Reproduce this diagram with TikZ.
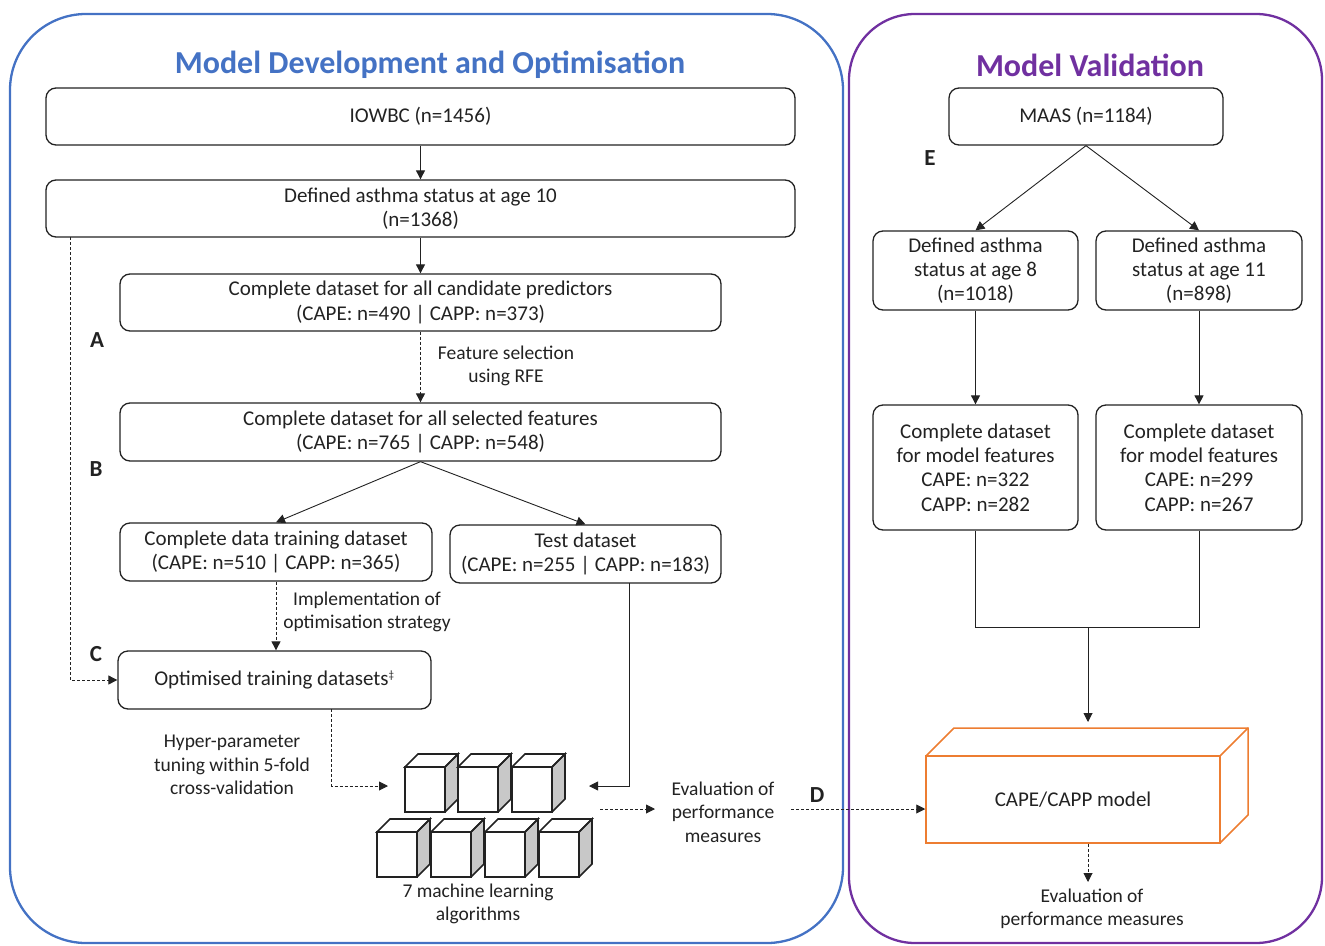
\documentclass[tikz,border=0pt]{standalone}
\usepackage{fontspec}
\setmainfont{Carlito}
\usetikzlibrary{arrows.meta}
\definecolor{devblue}{HTML}{4472C4}
\definecolor{valpurple}{HTML}{7030A0}
\definecolor{modelorange}{HTML}{ED7D31}
\definecolor{cubegrey}{HTML}{C8C8C8}
\definecolor{ink}{HTML}{222222}

\begin{document}
\begin{tikzpicture}[x=1pt,y=-1pt,
  box/.style={draw=ink, line width=1.3pt, rounded corners=10pt, align=center,
    font=\fontsize{21}{24.3}\selectfont, text=ink, inner sep=0pt},
  lbl/.style={align=center, font=\fontsize{19.5}{23.5}\selectfont, text=ink, inner sep=0pt},
  tag/.style={font=\fontsize{23}{26}\selectfont\bfseries, text=ink},
  heading/.style={font=\fontsize{32}{36}\selectfont\bfseries},
  arr/.style={-{Triangle[width=9pt,length=9pt]}, line width=0.9pt, draw=ink},
  dsh/.style={dash pattern=on 3pt off 2pt},
  cube/.style={draw=ink, line width=1.6pt, line join=miter},
]
\useasboundingbox (0,0) rectangle (1325,945);

% panels
\draw[devblue, line width=2.3pt, rounded corners=76pt] (10,14) rectangle (843,943);
\draw[valpurple, line width=2.3pt, rounded corners=66pt] (849,14) rectangle (1322,943);
\node[heading, text=devblue] (devtitle) at (430,65) {Model Development and Optimisation};
\node[heading, text=valpurple] (valtitle) at (1090,65) {Model Validation};

% development flow
\node[box, minimum width=749pt, minimum height=57pt] (iowbc) at (420.5,116.5) {IOWBC (n=1456)};
\node[box, minimum width=749pt, minimum height=57pt] (status) at (420.5,208.5) {Defined asthma status at age 10\\(n=1368)};
\node[box, minimum width=601pt, minimum height=57pt] (cand) at (420.5,302.5) {Complete dataset for all candidate predictors\\(CAPE: n=490 | CAPP: n=373)};
\node[box, minimum width=601pt, minimum height=58pt] (sel) at (420.5,432) {Complete dataset for all selected features\\(CAPE: n=765 | CAPP: n=548)};
\node[box, minimum width=312pt, minimum height=58pt] (train) at (276,552) {Complete data training dataset\\(CAPE: n=510 | CAPP: n=365)};
\node[box, minimum width=271pt, minimum height=58pt] (test) at (585.5,554) {Test dataset\\(CAPE: n=255 | CAPP: n=183)};
\node[box, minimum width=313pt, minimum height=58pt] (opt) at (274.5,680) {Optimised training datasets\textsuperscript{\fontsize{11}{11}\selectfont ‡}};

\node[tag] (la) at (97,340) {A};
\node[tag] (lb) at (96,469) {B};
\node[tag] (lc) at (96,654) {C};
\node[tag] (ld) at (817,795) {D};
\node[tag] (le) at (930,158) {E};

\node[lbl] (fsel) at (506,366) {Feature selection\\using RFE};
\node[lbl] (impl) at (367,612) {Implementation of\\optimisation strategy};
\node[lbl] (hyper) at (232,765) {Hyper-parameter\\tuning within 5-fold\\cross-validation};
\node[lbl] (evalA) at (723,812) {Evaluation of\\performance\\measures};
\node[lbl] (algs) at (478,904) {7 machine learning\\algorithms};

% cubes: front face 40x45, depth 13
\foreach \cx/\cy in {405/767, 458/767, 512/767, 377/832, 431/832, 485/832, 539/832}{
  \fill[cubegrey] (\cx+40,\cy) -- ++(13,-13) -- ++(0,45) -- ++(-13,13) -- cycle;
  \draw[cube, fill=white] (\cx,\cy) rectangle ++(40,45);
  \draw[cube, fill=white] (\cx,\cy) -- ++(13,-13) -- ++(40,0) -- ++(-13,13) -- cycle;
  \draw[cube] (\cx+40,\cy) -- ++(13,-13) -- ++(0,45) -- ++(-13,13);
}
\coordinate (cubesL) at (388,786);
\coordinate (cubesR) at (589,786);
\coordinate (cubesOut) at (600,809);
\coordinate (evalIn) at (655,809);
\coordinate (evalOut) at (791,809);

% development connectors
\draw[arr] (iowbc) -- (status);
\draw[arr] (status.south) -- (cand.north);
\draw[arr, dsh] (cand.south) -- (sel.north);
\draw[arr] (sel.south) -- (train.north);
\draw[arr] (sel.south) -- (test.north);
\draw[arr, dsh] (train.south) -- (opt.north -| train.south);
\coordinate (sd) at (70,237);
\draw[arr, dsh] (sd) -- (sd |- opt.west) -- (opt.west);
\coordinate (od) at (331.5,709);
\draw[arr, dsh] (od) -- (od |- cubesL) -- (cubesL);
\coordinate (td) at (629,583);
\draw[arr] (td) -- (td |- cubesR) -- (cubesR);
\draw[arr, dsh] (cubesOut) -- (evalIn);

% validation flow
\node[box, minimum width=274pt, minimum height=57pt] (maas) at (1086,116.5) {MAAS (n=1184)};
\node[box, minimum width=205pt, minimum height=79pt] (st8) at (975.5,270.5) {Defined asthma\\status at age 8\\(n=1018)};
\node[box, minimum width=206pt, minimum height=79pt] (st11) at (1199,270.5) {Defined asthma\\status at age 11\\(n=898)};
\node[box, minimum width=205pt, minimum height=125pt] (mf8) at (975.5,467.5) {Complete dataset\\for model features\\CAPE: n=322\\CAPP: n=282};
\node[box, minimum width=206pt, minimum height=125pt] (mf11) at (1199,467.5) {Complete dataset\\for model features\\CAPE: n=299\\CAPP: n=267};

% 3D model block
\draw[modelorange, line width=1.5pt, line join=miter] (926,756) -- (954,728) -- (1248,728) -- (1248,815) -- (1220,843);
\draw[modelorange, line width=1.5pt] (1220,756) -- (1248,728);
\node[draw=modelorange, line width=1.5pt, minimum width=294pt, minimum height=87pt, inner sep=0pt,
  font=\fontsize{21}{24}\selectfont, text=ink] (model) at (1073,799.5) {CAPE/CAPP model};
\node[lbl] (evalB) at (1092,909) {Evaluation of\\performance measures};

% validation connectors
\draw[arr] (maas.south) -- (st8.north);
\draw[arr] (maas.south) -- (st11.north);
\draw[arr] (st8) -- (mf8);
\draw[arr] (st11) -- (mf11);
\coordinate (join) at (1088,627);
\coordinate (modeltop) at (1088,722);
\draw[line width=0.9pt, draw=ink] (mf8.south) -- (mf8.south |- join) -- (mf11.south |- join) -- (mf11.south);
\draw[arr] (join) -- (modeltop);
\draw[arr, dsh] (evalOut) -- (evalOut -| model.west);
\coordinate (evalBin) at (1088,882);
\draw[arr, dsh] (model.south -| join) -- (evalBin);
\end{tikzpicture}
\end{document}
